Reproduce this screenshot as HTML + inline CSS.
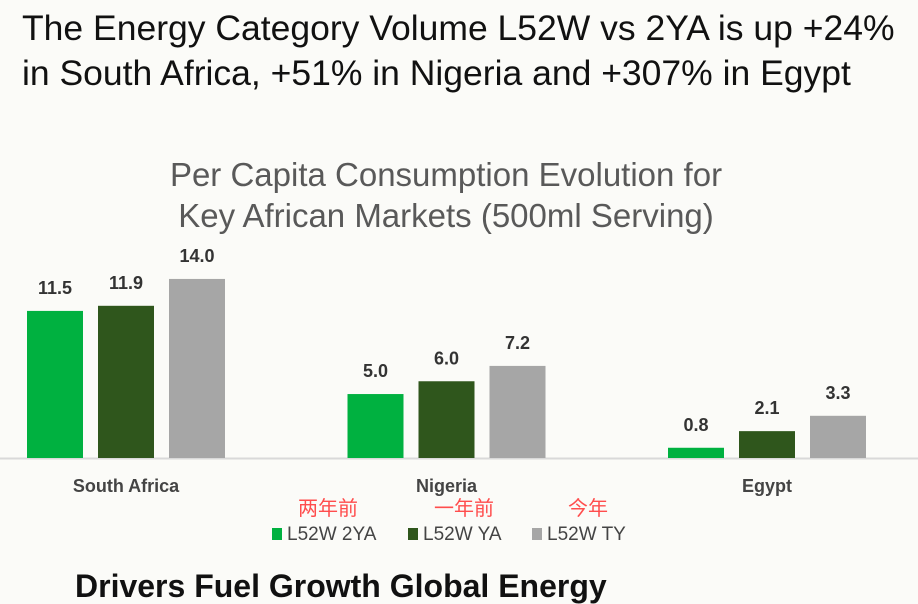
<!DOCTYPE html>
<html><head><meta charset="utf-8"><style>
body{margin:0;width:918px;height:580px;overflow:hidden;background:#fbfbf8;font-family:"Liberation Sans","Noto Sans CJK SC",sans-serif;position:relative}
#title{position:absolute;left:22px;top:6px;font-size:35.5px;line-height:45px;color:#111;margin:0;font-weight:normal;white-space:nowrap}
#sub{position:absolute;left:0;width:892px;top:154px;text-align:center;font-size:33px;line-height:41px;color:#595959;white-space:nowrap}
.foot{position:absolute;left:75px;top:568px;font-size:32px;line-height:36px;font-weight:bold;color:#111;white-space:nowrap}
</style></head><body>
<h1 id="title">The Energy Category Volume L52W vs 2YA is up +24%<br>in South Africa, +51% in Nigeria and +307% in Egypt</h1>
<div id="sub">Per Capita Consumption Evolution for<br>Key African Markets (500ml Serving)</div>
<svg id="chart" width="918" height="580" style="position:absolute;left:0;top:0"></svg>
<div class="foot">Drivers Fuel Growth Global Energy</div>
<script>
const categories=["South Africa","Nigeria","Egypt"];
const seriesNames=["L52W 2YA","L52W YA","L52W TY"];
const seriesCn=["两年前","一年前","今年"];
const v2YA=[11.5,5.0,0.8];
const vYA=[11.9,6.0,2.1];
const vTY=[14.0,7.2,3.3];
const series=[v2YA,vYA,vTY];
const colors=["#00b140","#2f561c","#a6a6a6"];
const svg=document.getElementById('chart');const NS='http://www.w3.org/2000/svg';
const base=458,scale=12.79;
const y=v=>base-v*scale;
const groupX=i=>27+i*320.5;
const barX=(i,s)=>groupX(i)+s*71;
function mk(t,a){const e=document.createElementNS(NS,t);for(const k in a)e.setAttribute(k,a[k]);svg.appendChild(e);return e;}
const ax=mk('line',{x1:0,x2:918,y1:base+0.5,y2:base+0.5,stroke:'#d9d9d9','stroke-width':2});


categories.forEach((c,i)=>{
 series.forEach((arr,s)=>{
  const r=mk('rect',{x:barX(i,s),y:y(arr[i]),width:56,height:arr[i]*scale,fill:colors[s]});
  
  
  const t=mk('text',{x:barX(i,s)+28,y:y(arr[i])-17,'text-anchor':'middle','font-size':18,'font-weight':'bold',fill:'#333','font-family':'Liberation Sans'});
  t.textContent=arr[i].toFixed(1);
  
  
 });
 const l=mk('text',{x:groupX(i)+99,y:492,'text-anchor':'middle','font-size':18,'font-weight':'bold',fill:'#444','font-family':'Liberation Sans'});
 l.textContent=c;
 
 
});
const lx=[272,408,532];
seriesNames.forEach((n,s)=>{
 const cn=mk('text',{x:lx[s]+56,y:515,'text-anchor':'middle','font-size':20,fill:'#ff4d4d','font-family':'Noto Sans CJK SC'});
 cn.textContent=seriesCn[s];
 
 
 const sw=mk('rect',{x:lx[s],y:528,width:10,height:12,fill:colors[s]});
 
 
 const t=mk('text',{x:lx[s]+15,y:540,'font-size':19,fill:'#444','font-family':'Liberation Sans'});
 t.textContent=n;
 
 
});
</script>
</body></html>
